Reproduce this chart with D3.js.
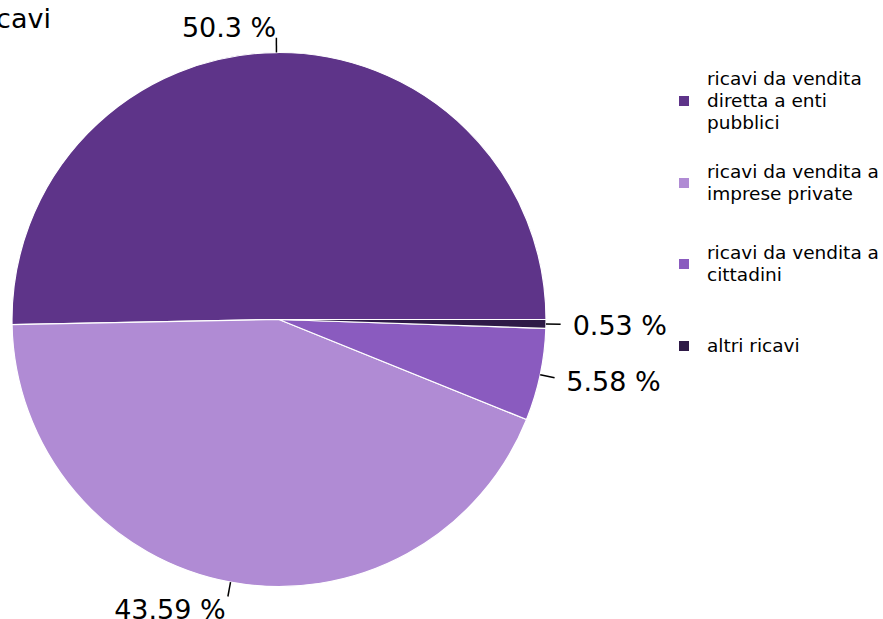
<!DOCTYPE html>
<html>
<head>
<meta charset="utf-8">
<script src="https://cdn.jsdelivr.net/npm/d3@7"></script>
<style>
  html, body { margin: 0; padding: 0; background: #ffffff; }
  svg { display: block; font-family: "DejaVu Sans", sans-serif; }
</style>
</head>
<body>
<svg id="chart" width="883" height="619"></svg>
<script>
// Revenue breakdown by source
const categories = [
  "ricavi da vendita diretta a enti pubblici",
  "ricavi da vendita a imprese private",
  "ricavi da vendita a cittadini",
  "altri ricavi"
];
const legendLines = [
  ["ricavi da vendita", "diretta a enti", "pubblici"],
  ["ricavi da vendita a", "imprese private"],
  ["ricavi da vendita a", "cittadini"],
  ["altri ricavi"]
];
const values = [50.3, 43.59, 5.58, 0.53];
const valueLabels = ["50.3 %", "43.59 %", "5.58 %", "0.53 %"];
const colors = ["#5e3489", "#b08bd4", "#8a5bbf", "#2e1a47"];
const title = "ricavi";

const svg = d3.select("#chart");
const cx = 279, cy = 319.5, R = 267;

// Slices run counter-clockwise starting from 3 o'clock
const pie = d3.pie().sort(null).value(d => d)
  .startAngle(Math.PI / 2).endAngle(Math.PI / 2 - 2 * Math.PI);
const arcs = pie(values);
const arc = d3.arc().innerRadius(0).outerRadius(R);
const color = d3.scaleOrdinal().domain(d3.range(values.length)).range(colors);

const g = svg.append("g").attr("transform", `translate(${cx},${cy})`);

g.selectAll("path.slice")
  .data(arcs)
  .join("path")
  .attr("class", "slice")
  .attr("d", arc)
  .attr("fill", (d, i) => color(i))
  .attr("stroke", "#ffffff")
  .attr("stroke-width", 1.2)
  .attr("stroke-linejoin", "round");

// Leader lines and percentage labels
const mid = d => (d.startAngle + d.endAngle) / 2;
g.selectAll("line.leader")
  .data(arcs)
  .join("line")
  .attr("class", "leader")
  .attr("x1", d => R * Math.sin(mid(d)))
  .attr("y1", d => -R * Math.cos(mid(d)))
  .attr("x2", d => R * 1.055 * Math.sin(mid(d)))
  .attr("y2", d => -R * 1.055 * Math.cos(mid(d)))
  .attr("stroke", "#000")
  .attr("stroke-width", 1.5);

g.selectAll("text.pct")
  .data(arcs)
  .join("text")
  .attr("class", "pct")
  .attr("x", d => R * 1.1 * Math.sin(mid(d)))
  .attr("y", d => -R * 1.1 * Math.cos(mid(d)))
  .attr("dy", "0.4em")
  .attr("text-anchor", d => Math.sin(mid(d)) > 0 ? "start" : "end")
  .attr("font-size", 27)
  .attr("fill", "#000")
  .text((d, i) => valueLabels[i]);

// Title
svg.append("text")
  .attr("x", 51)
  .attr("y", 28)
  .attr("text-anchor", "end")
  .attr("font-size", 27)
  .attr("fill", "#000")
  .text(title);

// Legend
const legendCenters = [101, 183, 264, 346];
const lineH = 22;
const legend = svg.append("g");
categories.forEach((c, i) => {
  const lines = legendLines[i];
  const yc = legendCenters[i];
  legend.append("rect")
    .attr("x", 679)
    .attr("y", yc - 5)
    .attr("width", 10)
    .attr("height", 10)
    .attr("fill", colors[i]);
  const t = legend.append("text")
    .attr("font-size", 18.5)
    .attr("fill", "#000");
  lines.forEach((ln, j) => {
    t.append("tspan")
      .attr("x", 707)
      .attr("y", yc + (j - (lines.length - 1) / 2) * lineH)
      .attr("dy", "0.35em")
      .text(ln);
  });
});
</script>
</body>
</html>
